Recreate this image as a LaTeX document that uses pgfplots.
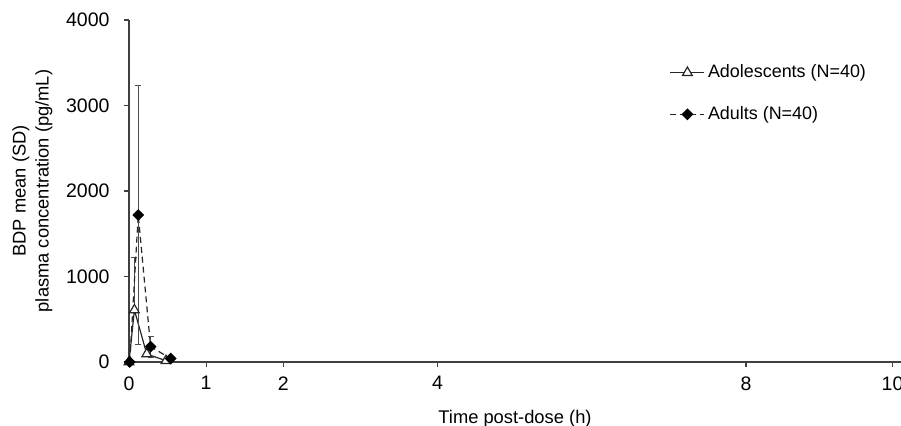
\documentclass[border=0pt]{standalone}
\usepackage{fontspec}
\setmainfont{Liberation Sans}
\usepackage{pgfplots}
\pgfplotsset{compat=1.18}
\begin{document}
\fontsize{9.2}{11.5}\selectfont
\begin{tikzpicture}
\useasboundingbox (-64.5bp,-32bp) rectangle (386bp,181bp);
\begin{axis}[
  scale only axis, width=386bp, height=171bp,
  xmin=0, xmax=10.01, ymin=0, ymax=4000,
  axis lines*=left,
  axis line style={color=black!75, line width=0.6pt},
  xtick={0,1,2,4,8,9.9}, xticklabels={0,1,2,4,8,10},
  ytick={0,1000,2000,3000,4000},
  tick align=outside, major tick length=2.5bp,
  tick style={black!75, line width=0.6pt},
  /pgf/number format/assume math mode=true,
  scaled y ticks=false,
  yticklabel style={/pgf/number format/1000 sep={}, xshift=-4bp},
  xticklabel style={yshift=-1.5bp},
  tick label style={font=\fontsize{9.8}{11}\selectfont},
  ylabel={BDP mean (SD)\\plasma concentration (pg/mL)},
  ylabel style={align=center, font=\fontsize{9.2}{11.5}\selectfont, yshift=0.5bp},
  xlabel={Time post-dose (h)},
  xlabel style={font=\fontsize{9.2}{10.5}\selectfont, yshift=-3.5bp},
  legend style={draw=none, fill=none, at={(0.700,0.882)}, anchor=north west,
    font=\fontsize{9}{10.5}\selectfont, row sep=9bp, inner sep=0pt,
    cells={anchor=west}, nodes={inner xsep=1.5bp}},
  legend cell align=left,
  clip=false,
]
\addplot[black!85, line width=0.6pt, mark=triangle*, mark size=2.8bp,
  mark options={solid, fill=white, draw=black!85},
  error bars/.cd, y dir=plus, y explicit,
  error bar style={black!70, line width=0.5pt, solid}, error mark options={rotate=90, mark size=1.5bp, black!70}]
  coordinates {
  (0,0) +- (0,0)
  (0.07,608) +- (0,617)
  (0.23,94) +- (0,0)
  (0.48,15) +- (0,0)
  };
\addlegendentry{Adolescents (N=40)}
\addplot[black!85, line width=0.6pt, densely dashed, mark=square*, mark size=1.8bp,
  mark options={solid, fill=black, draw=black, rotate=45},
  error bars/.cd, y dir=both, y explicit,
  error bar style={black!70, line width=0.5pt, solid}, error mark options={rotate=90, mark size=1.5bp, black!70}]
  coordinates {
  (0.01,0) +- (0,0)
  (0.12,1720) +- (0,1512)
  (0.28,180) +- (0,125)
  (0.54,40) +- (0,0)
  };
\addlegendentry{Adults (N=40)}
\end{axis}
\end{tikzpicture}
\end{document}
